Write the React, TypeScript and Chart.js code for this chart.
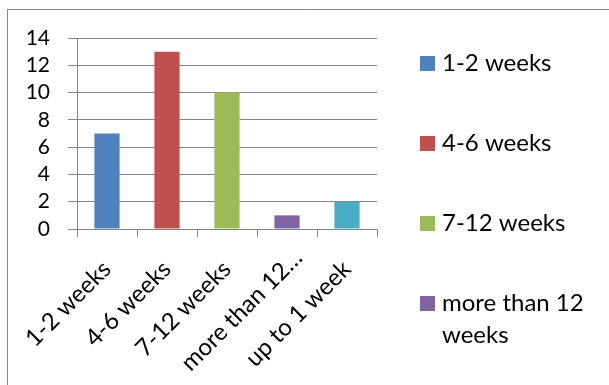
import React, { useEffect, useRef } from "react";
import { Chart, registerables } from "chart.js";

Chart.register(...registerables);

// Time-to-completion buckets and how many responses fell into each
const categories = ["1-2 weeks", "4-6 weeks", "7-12 weeks", "more than 12 weeks", "up to 1 week"];
const counts = [7, 13, 10, 1, 2];
const barColors = ["#4F81BD", "#C0504D", "#9BBB59", "#8064A2", "#4BACC6"];
const yTicks = [0, 2, 4, 6, 8, 10, 12, 14];

const FONT = "Lato, 'Open Sans', sans-serif";
const LABEL_SIZE = 24;
const VALUE_SIZE = 21;
const LINE_COLOR = "#868686";
const W = 609;
const H = 385;
const MAX_LABEL = 12;

// Excel-style cut-off for long category names on the axis
const isCut = (s: string) => s.length > MAX_LABEL;
const shortLabel = (s: string) => (isCut(s) ? s.slice(0, MAX_LABEL) + "\u2026" : s);

// Thin frame around the chart (only the top and left edges fall inside the canvas)
const framePlugin = {
  id: "frame",
  beforeDraw(chart: any) {
    const ctx = chart.ctx;
    ctx.save();
    ctx.strokeStyle = LINE_COLOR;
    ctx.lineWidth = 1;
    ctx.beginPath();
    ctx.moveTo(7.5, H);
    ctx.lineTo(7.5, 9.5);
    ctx.lineTo(W, 9.5);
    ctx.stroke();
    ctx.restore();
  },
};

// Category names under the axis, turned 45 degrees and ending at their tick
const xLabelPlugin = {
  id: "xLabels",
  afterDraw(chart: any) {
    const ctx = chart.ctx;
    const xs = chart.scales.x;
    const y0 = xs.top + 8 + 18;
    const half = (LABEL_SIZE * 1.2) / 2;
    const angle = -Math.PI / 4;
    ctx.save();
    ctx.font = `${LABEL_SIZE}px ${FONT}`;
    ctx.fillStyle = "#000";
    ctx.textAlign = "right";
    ctx.textBaseline = "middle";
    categories.forEach((c, i) => {
      const px = xs.getPixelForValue(i) + half * Math.sin(angle);
      ctx.save();
      ctx.translate(px, y0);
      ctx.rotate(angle);
      ctx.fillText(shortLabel(c), isCut(c) ? 16 : 0, half);
      ctx.restore();
    });
    ctx.restore();
  },
};

// Legend on the right, one entry per category, wrapping long names
const sideLegendPlugin = {
  id: "sideLegend",
  afterDraw(chart: any) {
    const ctx = chart.ctx;
    const boxX = 420;
    const textX = 442;
    const maxW = W - textX - 8;
    const lineH = 32;
    const gap = 80;
    let y = 63;
    ctx.save();
    ctx.font = `${LABEL_SIZE}px ${FONT}`;
    ctx.textBaseline = "middle";
    ctx.textAlign = "left";
    for (let i = 0; i < categories.length; i++) {
      const words = categories[i].split(" ");
      const lines: string[] = [];
      let cur = "";
      for (const w of words) {
        const test = cur ? cur + " " + w : w;
        if (cur && ctx.measureText(test).width > maxW) {
          lines.push(cur);
          cur = w;
        } else {
          cur = test;
        }
      }
      if (cur) lines.push(cur);
      const bottom = y + (lines.length - 1) * lineH + lineH / 2;
      if (bottom > H) break;
      ctx.fillStyle = barColors[i];
      ctx.fillRect(boxX, Math.round(y - 7), 15, 15);
      ctx.fillStyle = "#000";
      lines.forEach((ln, k) => ctx.fillText(ln, textX, y + k * lineH));
      y += (lines.length - 1) * lineH + gap;
    }
    ctx.restore();
  },
};

export default function App() {
  const ref = useRef<HTMLCanvasElement | null>(null);

  useEffect(() => {
    if (!ref.current) return;
    const chart = new Chart(ref.current, {
      type: "bar",
      data: {
        labels: categories,
        datasets: [
          {
            data: counts,
            backgroundColor: barColors,
            borderWidth: 0,
            categoryPercentage: 1,
            barPercentage: 0.42,
          },
        ],
      },
      options: {
        responsive: false,
        animation: false,
        layout: { padding: { left: 0, top: 38, right: W - 377, bottom: 0 } },
        plugins: {
          legend: { display: false },
          tooltip: { enabled: false },
        },
        scales: {
          x: {
            grid: {
              display: true,
              drawOnChartArea: false,
              drawTicks: true,
              tickLength: 8,
              color: LINE_COLOR,
              lineWidth: 1,
            },
            border: { display: true, color: LINE_COLOR, width: 1 },
            ticks: { display: false },
            afterFit: (scale: any) => {
              scale.height = H - 229;
            },
          },
          y: {
            min: yTicks[0],
            max: yTicks[yTicks.length - 1],
            afterBuildTicks: (scale: any) => {
              scale.ticks = yTicks.map((v) => ({ value: v }));
            },
            grid: {
              color: LINE_COLOR,
              lineWidth: 1,
              drawTicks: true,
              tickLength: 9,
            },
            border: { display: true, color: LINE_COLOR, width: 1 },
            ticks: {
              color: "#000",
              font: { family: FONT, size: VALUE_SIZE },
              padding: 18,
              autoSkip: false,
            },
            afterFit: (scale: any) => {
              scale.width = 77;
            },
          },
        },
      },
      plugins: [framePlugin, xLabelPlugin, sideLegendPlugin],
    });
    return () => chart.destroy();
  }, []);

  return (
    <div style={{ position: "absolute", left: 0, top: 0, width: W, height: H, background: "#fff" }}>
      <canvas ref={ref} width={W} height={H} />
    </div>
  );
}
